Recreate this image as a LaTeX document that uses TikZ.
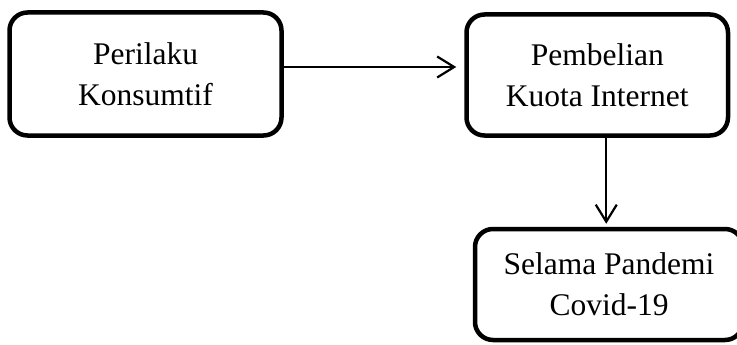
\documentclass[tikz,border=0pt]{standalone}
\usepackage{fontspec}
\setmainfont{Liberation Serif}
\usetikzlibrary{arrows.meta}
\begin{document}
\begin{tikzpicture}[x=1pt,y=-1pt,
  box/.style={draw, line width=4.5pt, rounded corners=18pt, align=center,
    inner sep=0pt, font=\fontsize{31.5}{41}\selectfont},
  arr/.style={line width=2.2pt, -{Straight Barb[length=17pt,width=21pt,line width=2.2pt]}}]
\useasboundingbox (0,0) rectangle (737,345);
\clip (0,0) rectangle (737,345);
\node[box, minimum width=272pt, minimum height=123pt] (b1) at (145.5,74) {Perilaku\\Konsumtif};
\node[box, minimum width=261.5pt, minimum height=121pt] (b2) at (597.25,75) {Pembelian\\Kuota Internet};
\node[box, minimum width=268pt, minimum height=111pt] (b3) at (609,284.5) {Selama Pandemi\\Covid-19};
\draw[arr, shorten >=8pt] ([yshift=7pt]b1.east) -- ([yshift=7pt]b1.east -| b2.west);
\draw[arr, shorten >=3pt] ([xshift=9pt]b2.south) -- ([xshift=9pt]b2.south |- b3.north);
\end{tikzpicture}
\end{document}
